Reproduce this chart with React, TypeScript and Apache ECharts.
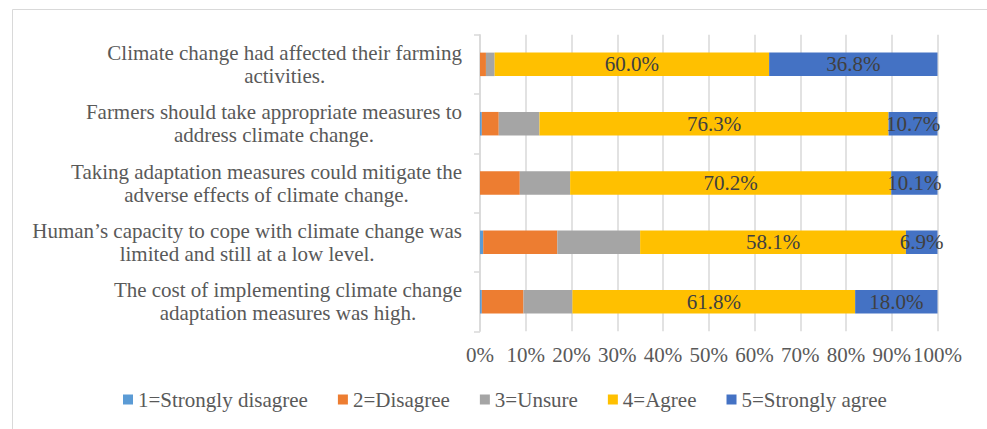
import React, { useEffect, useRef } from "react";
import * as echarts from "echarts";

// Survey statements, top to bottom
const statements = [
  "Climate change had affected their farming\nactivities.",
  "Farmers should take appropriate measures to\naddress climate change.",
  "Taking adaptation measures could mitigate the\nadverse effects of climate change.",
  "Human\u2019s capacity to cope with climate change was\nlimited and still at a low level.",
  "The cost of implementing climate change\nadaptation measures was high.",
];

const responseLevels = [
  "1=Strongly disagree",
  "2=Disagree",
  "3=Unsure",
  "4=Agree",
  "5=Strongly agree",
];

// Share of respondents (%) per statement for each response level
const stronglyDisagree = [0, 0.4, 0, 0.7, 0.4];
const disagree = [1.3, 3.7, 8.7, 16.2, 9.1];
const unsure = [1.9, 8.9, 11.0, 18.1, 10.7];
const agree = [60.0, 76.3, 70.2, 58.1, 61.8];
const stronglyAgree = [36.8, 10.7, 10.1, 6.9, 18.0];

const levelValues = [stronglyDisagree, disagree, unsure, agree, stronglyAgree];
const levelColors = ["#5B9BD5", "#ED7D31", "#A5A5A5", "#FFC000", "#4472C4"];
const labelledLevels = [3, 4];

const xTicks = [0, 10, 20, 30, 40, 50, 60, 70, 80, 90, 100];

const FONT = "Liberation Serif";

export default function App() {
  const ref = useRef<HTMLDivElement>(null);

  useEffect(() => {
    if (!ref.current) return;
    const chart = echarts.init(ref.current, null, { renderer: "svg" });

    chart.setOption({
      animation: false,
      backgroundColor: "#ffffff",
      textStyle: { fontFamily: FONT },
      graphic: [
        {
          type: "rect",
          shape: { x: 12.5, y: 9.5, width: 990, height: 440 },
          style: { fill: "none", stroke: "#D9D9D9", lineWidth: 1 },
          silent: true,
        },
      ],
      legend: {
        left: 123,
        top: 389,
        padding: 0,
        itemWidth: 10,
        itemHeight: 10,
        itemGap: 30,
        icon: "rect",
        textStyle: { fontFamily: FONT, fontSize: 21, color: "#595959" },
        data: responseLevels,
      },
      grid: { left: 480, right: 49.5, top: 34.7, bottom: 97.7, containLabel: false },
      xAxis: {
        type: "value",
        min: xTicks[0],
        max: xTicks[xTicks.length - 1],
        interval: 10,
        axisLine: { show: false },
        axisTick: { show: false },
        splitLine: { show: true, lineStyle: { color: "#D9D9D9", width: 1.5 } },
        axisLabel: {
          fontFamily: FONT,
          fontSize: 21,
          color: "#595959",
          margin: 13,
          formatter: (v: number) => `${v}%`,
        },
      },
      yAxis: {
        type: "category",
        inverse: true,
        data: statements,
        axisLine: { show: true, lineStyle: { color: "#D9D9D9", width: 1.5 } },
        axisTick: { show: true, length: 6, lineStyle: { color: "#D9D9D9", width: 1.5 } },
        axisLabel: {
          margin: 18,
          fontFamily: FONT,
          fontSize: 21,
          color: "#595959",
          formatter: (v: string) =>
            v
              .split("\n")
              .map((line) => `{c|${line}}`)
              .join("\n"),
          rich: {
            c: {
              align: "center",
              fontFamily: FONT,
              fontSize: 21,
              lineHeight: 23,
              color: "#595959",
            },
          },
        },
      },
      series: responseLevels.map((name, i) => ({
        name,
        type: "bar",
        stack: "total",
        barWidth: 23.5,
        data: levelValues[i],
        itemStyle: { color: levelColors[i] },
        label: {
          show: labelledLevels.includes(i),
          position: "inside",
          fontFamily: FONT,
          fontSize: 21,
          color: "#404040",
          formatter: (p: any) => `${Number(p.value).toFixed(1)}%`,
        },
      })),
    });

    return () => chart.dispose();
  }, []);

  return (
    <div
      ref={ref}
      style={{ position: "fixed", left: 0, top: 0, width: 987, height: 429 }}
    />
  );
}
